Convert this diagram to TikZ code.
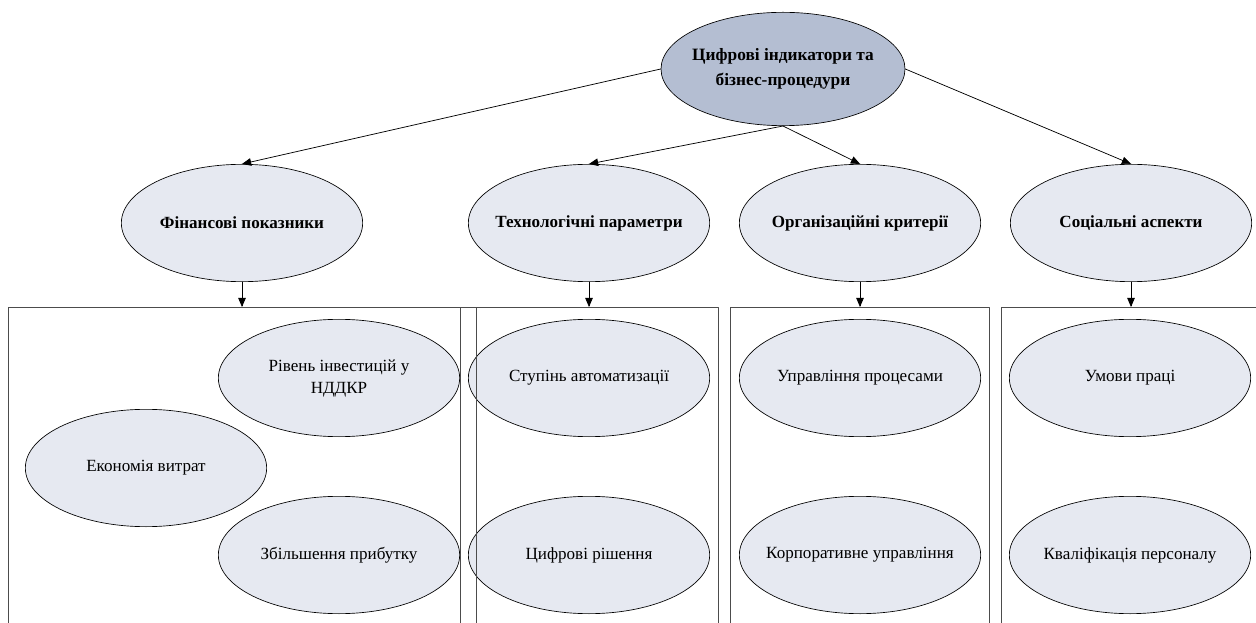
\documentclass[tikz,border=0pt]{standalone}
\usepackage{fontspec}
\setmainfont{Liberation Serif}
\usetikzlibrary{arrows,shapes.geometric}
\definecolor{b4bed2}{rgb}{0.706,0.745,0.824}
\definecolor{e6e9f1}{rgb}{0.902,0.914,0.945}
\definecolor{qqqqqq}{rgb}{0.3,0.3,0.3}
\begin{document}
\begin{tikzpicture}[line cap=round,line join=round,>=triangle 45,x=0.75pt,y=-0.75pt,
  oval/.style={draw=black,line width=0.5pt,ellipse,fill=e6e9f1,minimum width=181pt,minimum height=88pt,inner xsep=-20pt,inner ysep=0pt,align=center,font=\fontsize{12.8}{16.5}\selectfont},
  head/.style={oval,font=\fontsize{12.8}{16.5}\selectfont\bfseries},
  frame/.style={draw=qqqqqq,line width=0.5pt,rectangle,anchor=north,minimum height=252pt,inner sep=0pt}]
\useasboundingbox (0,0) rectangle (1256,623);
\clip (0,0) rectangle (1256,623);
\node[oval,fill=b4bed2,minimum width=183pt,minimum height=85pt,font=\fontsize{13}{19}\selectfont\bfseries] (top) at (783,69) {Цифрові індикатори та\\бізнес-процедури};
\node[head] (fin) at (242,223) {Фінансові показники};
\node[head] (tech) at (589,223) {Технологічні параметри};
\node[head] (org) at (860,223) {Організаційні критерії};
\node[head] (soc) at (1131,223) {Соціальні аспекти};
% groups
\node[oval] (rnd) at (339,378) {Рівень інвестицій у\\НДДКР};
\node[oval] (cost) at (146,468) {Економія витрат};
\node[oval] (profit) at (339,555) {Збільшення прибутку};
\node[oval] (auto) at (589,378) {Ступінь автоматизації};
\node[oval] (digi) at (589,555) {Цифрові рішення};
\node[oval] (proc) at (860,378) {Управління процесами};
\node[oval] (corp) at (860,555) {Корпоративне управління};
\node[oval] (work) at (1130,378) {Умови праці};
\node[oval] (staff) at (1130,555) {Кваліфікація персоналу};
\node[frame,minimum width=351pt] (finbox) at (242,307) {};
\node[frame,minimum width=193.5pt] (techbox) at (589,307) {};
\node[frame,minimum width=194.25pt] (orgbox) at (860,307) {};
\node[frame,minimum width=195pt] (socbox) at (1131,307) {};
% arrows
\draw[->,line width=0.55pt] (top.west) -- (fin.north);
\draw[->,line width=0.55pt] (top.south) -- (tech.north);
\draw[->,line width=0.55pt] (top.south) -- (org.north);
\draw[->,line width=0.55pt] (top.east) -- (soc.north);
\draw[->,line width=0.55pt] (fin.south) -- (finbox.north);
\draw[->,line width=0.55pt] (tech.south) -- (techbox.north);
\draw[->,line width=0.55pt] (org.south) -- (orgbox.north);
\draw[->,line width=0.55pt] (soc.south) -- (socbox.north);
\end{tikzpicture}
\end{document}
